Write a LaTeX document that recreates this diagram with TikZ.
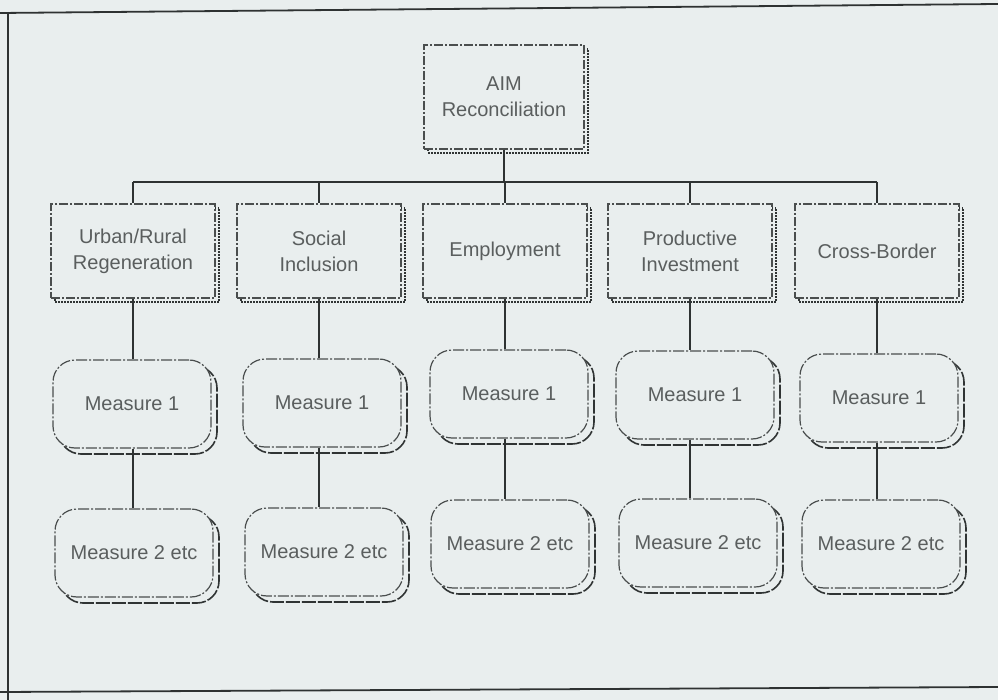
\documentclass[tikz,border=0pt]{standalone}
\usepackage{fontspec}
\setmainfont{Liberation Sans}
\usetikzlibrary{shadows}
\definecolor{bg}{HTML}{E9EEEE}
\definecolor{txt}{HTML}{5A5E5E}
\definecolor{edge}{HTML}{2E3232}
\definecolor{outl}{HTML}{4A4E4E}
\definecolor{shad}{HTML}{303434}
\begin{document}
\begin{tikzpicture}[x=1pt,y=1pt,
  font=\fontsize{20}{26}\selectfont,
  every node/.style={text=txt, align=center},
  rectbox/.style={rectangle, draw=outl, fill=bg, line width=1.2pt,
    dash pattern=on 9pt off 2pt on 2pt off 2pt,
    copy shadow={shadow xshift=4pt, shadow yshift=-4pt, draw=shad, fill=bg,
      line width=1.1pt, dash pattern=on 1.5pt off 1.5pt},
    minimum width=164pt, minimum height=94pt, inner sep=0pt},
  measbox/.style={rectangle, rounded corners=22pt, draw=outl, fill=bg, line width=1.2pt,
    dash pattern=on 11pt off 2pt on 2pt off 2pt,
    copy shadow={shadow xshift=6pt, shadow yshift=-6pt, draw=shad, fill=bg,
      line width=1.6pt, dash pattern=on 14pt off 2pt},
    minimum width=158pt, minimum height=88pt, inner sep=0pt},
  conn/.style={draw=edge, line width=2pt},
  framel/.style={draw=edge, line width=1.8pt}]
% canvas
\fill[bg] (0,0) rectangle (998,-700);
\useasboundingbox (0,0) rectangle (998,-700);
% page frame
\coordinate (ftl) at (0,-13);
\coordinate (ftr) at (998,-4);
\coordinate (fl1) at (8,-12);
\coordinate (fl2) at (8,-700);
\coordinate (fbl) at (0,-692);
\coordinate (fbr) at (998,-687);
\draw[framel] (ftl) -- (ftr);
\draw[framel, line width=1.1pt] (fl1) -- (fl2);
\draw[framel] (fbl) -- (fbr);

% top node
\node[rectbox, minimum width=160pt, minimum height=104pt] (top) at (504,-97) {AIM\\Reconciliation};

% level 2
\node[rectbox] (c1) at (133,-251) {Urban/Rural\\Regeneration};
\node[rectbox] (c2) at (319,-251) {Social\\Inclusion};
\node[rectbox] (c3) at (505,-251) {Employment};
\node[rectbox] (c4) at (690,-251) {Productive\\Investment};
\node[rectbox] (c5) at (877,-251) {Cross-Border};

% bus
\coordinate (bt) at (504,-182);
\coordinate (b1) at (133,-182);
\coordinate (b2) at (319,-182);
\coordinate (b3) at (505,-182);
\coordinate (b4) at (690,-182);
\coordinate (b5) at (877,-182);

% measure 1
\node[measbox] (m1) at (132,-404) {Measure 1};
\node[measbox] (m2) at (322,-403) {Measure 1};
\node[measbox] (m3) at (509,-394) {Measure 1};
\node[measbox] (m4) at (695,-395) {Measure 1};
\node[measbox] (m5) at (879,-398) {Measure 1};

% measure 2
\node[measbox] (n1) at (134,-553) {Measure 2 etc};
\node[measbox] (n2) at (324,-552) {Measure 2 etc};
\node[measbox] (n3) at (510,-544) {Measure 2 etc};
\node[measbox] (n4) at (698,-543) {Measure 2 etc};
\node[measbox] (n5) at (881,-544) {Measure 2 etc};

% connectors
\draw[conn] (top.south) -- (bt);
\draw[conn] (b1) -- (b5);
\foreach \i in {1,...,5}{
  \draw[conn] (b\i) -- (c\i.north);
  \draw[conn] (c\i.south) -- (c\i.south |- m\i.north);
  \draw[conn] (c\i.south |- m\i.south) -- (c\i.south |- n\i.north);
}
\end{tikzpicture}
\end{document}
